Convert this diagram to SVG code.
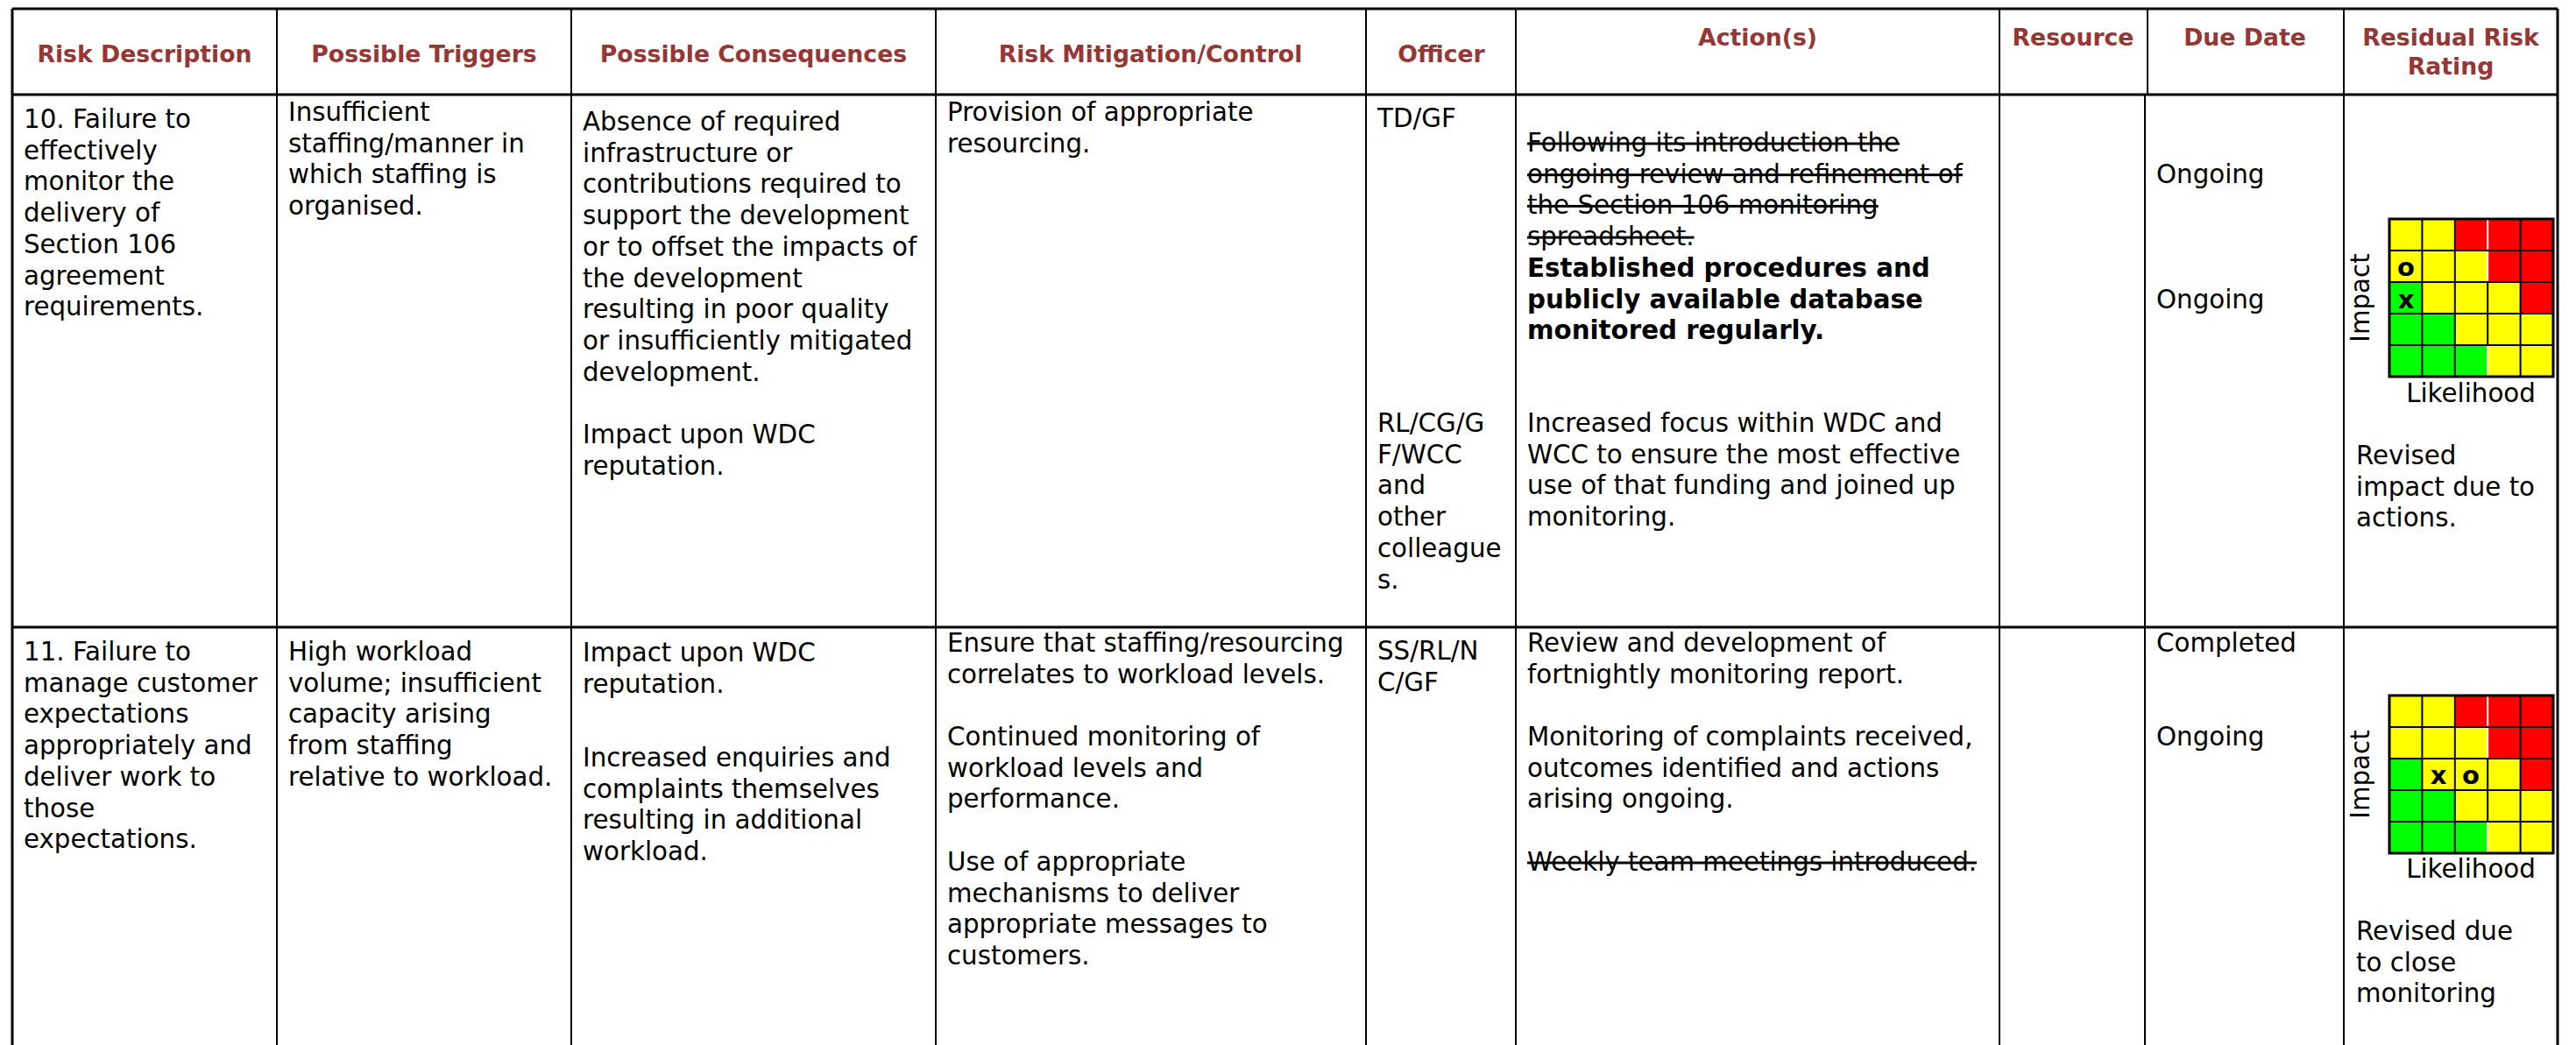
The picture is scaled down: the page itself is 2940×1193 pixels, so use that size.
<svg xmlns="http://www.w3.org/2000/svg" xmlns:xlink="http://www.w3.org/1999/xlink" width="2940" height="1193" viewBox="0 0 2940 1193">
<style>
.t{font-family:"DejaVu Sans","Verdana",sans-serif;font-size:29.3px;fill:#000}
.bd{font-weight:bold}
.st{text-decoration:line-through}
.h{font-family:"DejaVu Sans","Verdana",sans-serif;font-size:26.7px;font-weight:bold;fill:#953735;text-anchor:middle}
.mk{font-family:"DejaVu Sans",sans-serif;font-size:29px;font-weight:bold;fill:#000;text-anchor:middle}
.bl{stroke:#000;stroke-width:3;fill:none}
.vl{stroke:#000;stroke-width:2;fill:none}
.gl{stroke:#000;stroke-width:2}
.wl{stroke:#fff;stroke-width:2}
.Y{fill:#FFFF00}.R{fill:#FF0000}.G{fill:#00FF00}
</style>
<defs>
<g id="matrix">
<rect class="Y" x="0" y="0" width="37.4" height="36"/><rect class="Y" x="37.4" y="0" width="37.4" height="36"/><rect class="R" x="74.8" y="0" width="37.4" height="36"/><rect class="R" x="112.2" y="0" width="37.4" height="36"/><rect class="R" x="149.6" y="0" width="37.4" height="36"/>
<rect class="Y" x="0" y="36" width="37.4" height="36"/><rect class="Y" x="37.4" y="36" width="37.4" height="36"/><rect class="Y" x="74.8" y="36" width="37.4" height="36"/><rect class="R" x="112.2" y="36" width="37.4" height="36"/><rect class="R" x="149.6" y="36" width="37.4" height="36"/>
<rect class="G" x="0" y="72" width="37.4" height="36"/><rect class="Y" x="37.4" y="72" width="37.4" height="36"/><rect class="Y" x="74.8" y="72" width="37.4" height="36"/><rect class="Y" x="112.2" y="72" width="37.4" height="36"/><rect class="R" x="149.6" y="72" width="37.4" height="36"/>
<rect class="G" x="0" y="108" width="37.4" height="36"/><rect class="G" x="37.4" y="108" width="37.4" height="36"/><rect class="Y" x="74.8" y="108" width="37.4" height="36"/><rect class="Y" x="112.2" y="108" width="37.4" height="36"/><rect class="Y" x="149.6" y="108" width="37.4" height="36"/>
<rect class="G" x="0" y="144" width="37.4" height="36"/><rect class="G" x="37.4" y="144" width="37.4" height="36"/><rect class="G" x="74.8" y="144" width="37.4" height="36"/><rect class="Y" x="112.2" y="144" width="37.4" height="36"/><rect class="Y" x="149.6" y="144" width="37.4" height="36"/>
<line class="gl" x1="37.4" y1="0" x2="37.4" y2="180"/><line class="gl" x1="74.8" y1="0" x2="74.8" y2="180"/><line class="gl" x1="112.2" y1="72" x2="112.2" y2="144"/><line class="gl" x1="149.6" y1="0" x2="149.6" y2="180"/>
<line class="wl" x1="112.2" y1="1" x2="112.2" y2="71"/><line class="wl" x1="112.2" y1="145" x2="112.2" y2="179"/>
<line class="gl" x1="0" y1="36" x2="187" y2="36"/><line class="gl" x1="0" y1="72" x2="187" y2="72"/><line class="gl" x1="0" y1="108" x2="187" y2="108"/><line class="gl" x1="0" y1="144" x2="187" y2="144"/>
<rect x="0" y="0" width="187" height="180" fill="none" stroke="#000" stroke-width="3"/>
</g>
</defs>
<rect x="0" y="0" width="2940" height="1193" fill="#fff"/>

<g id="grid-lines">
<line class="bl" x1="14" y1="10" x2="2919" y2="10"/>
<line class="bl" x1="14" y1="108" x2="2919" y2="108"/>
<line class="bl" x1="14" y1="716" x2="2919" y2="716"/>
<line class="bl" x1="14" y1="10" x2="14" y2="1193"/>
<line class="bl" x1="2919" y1="10" x2="2919" y2="1193"/>
<line class="vl" x1="316" y1="10" x2="316" y2="1193"/>
<line class="vl" x1="652" y1="10" x2="652" y2="1193"/>
<line class="vl" x1="1068" y1="10" x2="1068" y2="1193"/>
<line class="vl" x1="1559" y1="10" x2="1559" y2="1193"/>
<line class="vl" x1="1730" y1="10" x2="1730" y2="1193"/>
<line class="vl" x1="2282" y1="10" x2="2282" y2="1193"/>
<line class="vl" x1="2451" y1="10" x2="2451" y2="108"/>
<line class="vl" x1="2448" y1="108" x2="2448" y2="1193"/>
<line class="vl" x1="2675" y1="10" x2="2675" y2="1193"/>
</g>

<g id="header">
<text class="h" x="165" y="71">Risk Description</text>
<text class="h" x="484" y="71">Possible Triggers</text>
<text class="h" x="860" y="71">Possible Consequences</text>
<text class="h" x="1313" y="71">Risk Mitigation/Control</text>
<text class="h" x="1645" y="71">Officer</text>
<text class="h" x="2006" y="52">Action(s)</text>
<text class="h" x="2366" y="52">Resource</text>
<text class="h" x="2562" y="52">Due Date</text>
<text class="h" x="2797" y="52">Residual Risk</text>
<text class="h" x="2797" y="85">Rating</text>
</g>

<g id="row10">
<g id="r10-desc"><text class="t">
<tspan x="27" y="146">10. Failure to</tspan><tspan x="27" y="181.7">effectively</tspan><tspan x="27" y="217.4">monitor the</tspan><tspan x="27" y="253.1">delivery of</tspan><tspan x="27" y="288.8">Section 106</tspan><tspan x="27" y="324.5">agreement</tspan><tspan x="27" y="360.2">requirements.</tspan></text></g>
<g id="r10-trig"><text class="t">
<tspan x="329" y="138">Insufficient</tspan><tspan x="329" y="173.7">staffing/manner in</tspan><tspan x="329" y="209.4">which staffing is</tspan><tspan x="329" y="245.1">organised.</tspan></text></g>
<g id="r10-cons"><text class="t">
<tspan x="665" y="149">Absence of required</tspan><tspan x="665" y="184.7">infrastructure or</tspan><tspan x="665" y="220.4">contributions required to</tspan><tspan x="665" y="256.1">support the development</tspan><tspan x="665" y="291.8">or to offset the impacts of</tspan><tspan x="665" y="327.5">the development</tspan><tspan x="665" y="363.2">resulting in poor quality</tspan><tspan x="665" y="398.9">or insufficiently mitigated</tspan><tspan x="665" y="434.6">development.</tspan><tspan x="665" y="506">Impact upon WDC</tspan><tspan x="665" y="541.7">reputation.</tspan></text></g>
<g id="r10-mit"><text class="t">
<tspan x="1081" y="138">Provision of appropriate</tspan><tspan x="1081" y="173.7">resourcing.</tspan></text></g>
<g id="r10-off"><text class="t">
<tspan x="1572" y="145">TD/GF</tspan><tspan x="1572" y="493">RL/CG/G</tspan><tspan x="1572" y="528.7">F/WCC</tspan><tspan x="1572" y="564.4">and</tspan><tspan x="1572" y="600.1">other</tspan><tspan x="1572" y="635.8">colleague</tspan><tspan x="1572" y="671.5">s.</tspan></text></g>
<g id="r10-act">
<text class="t st"><tspan x="1743" y="173">Following its introduction the</tspan><tspan x="1743" y="208.7">ongoing review and refinement of</tspan><tspan x="1743" y="244.4">the Section 106 monitoring</tspan><tspan x="1743" y="280.1">spreadsheet.</tspan></text>
<text class="t bd"><tspan x="1743" y="315.8">Established procedures and</tspan><tspan x="1743" y="351.5">publicly available database</tspan><tspan x="1743" y="387.2">monitored regularly.</tspan></text>
<text class="t"><tspan x="1743" y="493">Increased focus within WDC and</tspan><tspan x="1743" y="528.7">WCC to ensure the most effective</tspan><tspan x="1743" y="564.4">use of that funding and joined up</tspan><tspan x="1743" y="600.1">monitoring.</tspan></text>
</g>
<g id="r10-due"><text class="t"><tspan x="2461" y="209">Ongoing</tspan><tspan x="2461" y="352">Ongoing</tspan></text></g>
<g id="r10-rating">
<use xlink:href="#matrix" href="#matrix" x="2727" y="250"/>
<text class="mk" x="2746" y="315">o</text>
<text class="mk" x="2746" y="352">x</text>
<text class="t" text-anchor="middle" transform="translate(2704,340) rotate(-90)">Impact</text>
<text class="t" text-anchor="middle" x="2820" y="459">Likelihood</text>
<text class="t"><tspan x="2689" y="530">Revised</tspan><tspan x="2689" y="565.7">impact due to</tspan><tspan x="2689" y="601.4">actions.</tspan></text>
</g>
</g>

<g id="row11">
<g id="r11-desc"><text class="t">
<tspan x="27" y="754">11. Failure to</tspan><tspan x="27" y="789.7">manage customer</tspan><tspan x="27" y="825.4">expectations</tspan><tspan x="27" y="861.1">appropriately and</tspan><tspan x="27" y="896.8">deliver work to</tspan><tspan x="27" y="932.5">those</tspan><tspan x="27" y="968.2">expectations.</tspan></text></g>
<g id="r11-trig"><text class="t">
<tspan x="329" y="754">High workload</tspan><tspan x="329" y="789.7">volume; insufficient</tspan><tspan x="329" y="825.4">capacity arising</tspan><tspan x="329" y="861.1">from staffing</tspan><tspan x="329" y="896.8">relative to workload.</tspan></text></g>
<g id="r11-cons"><text class="t">
<tspan x="665" y="755">Impact upon WDC</tspan><tspan x="665" y="790.7">reputation.</tspan><tspan x="665" y="875">Increased enquiries and</tspan><tspan x="665" y="910.7">complaints themselves</tspan><tspan x="665" y="946.4">resulting in additional</tspan><tspan x="665" y="982.1">workload.</tspan></text></g>
<g id="r11-mit"><text class="t">
<tspan x="1081" y="744">Ensure that staffing/resourcing</tspan><tspan x="1081" y="779.7">correlates to workload levels.</tspan><tspan x="1081" y="851">Continued monitoring of</tspan><tspan x="1081" y="886.7">workload levels and</tspan><tspan x="1081" y="922.4">performance.</tspan><tspan x="1081" y="994">Use of appropriate</tspan><tspan x="1081" y="1029.7">mechanisms to deliver</tspan><tspan x="1081" y="1065.4">appropriate messages to</tspan><tspan x="1081" y="1101.1">customers.</tspan></text></g>
<g id="r11-off"><text class="t">
<tspan x="1572" y="753">SS/RL/N</tspan><tspan x="1572" y="788.7">C/GF</tspan></text></g>
<g id="r11-act">
<text class="t"><tspan x="1743" y="744">Review and development of</tspan><tspan x="1743" y="779.7">fortnightly monitoring report.</tspan><tspan x="1743" y="851">Monitoring of complaints received,</tspan><tspan x="1743" y="886.7">outcomes identified and actions</tspan><tspan x="1743" y="922.4">arising ongoing.</tspan></text>
<text class="t st" x="1743" y="994">Weekly team meetings introduced.</text>
</g>
<g id="r11-due"><text class="t"><tspan x="2461" y="744">Completed</tspan><tspan x="2461" y="851">Ongoing</tspan></text></g>
<g id="r11-rating">
<use xlink:href="#matrix" href="#matrix" x="2727" y="794"/>
<text class="mk" x="2783" y="895">x</text>
<text class="mk" x="2820" y="895">o</text>
<text class="t" text-anchor="middle" transform="translate(2704,884) rotate(-90)">Impact</text>
<text class="t" text-anchor="middle" x="2820" y="1002">Likelihood</text>
<text class="t"><tspan x="2689" y="1073">Revised due</tspan><tspan x="2689" y="1108.7">to close</tspan><tspan x="2689" y="1144.4">monitoring</tspan></text>
</g>
</g>
</svg>
